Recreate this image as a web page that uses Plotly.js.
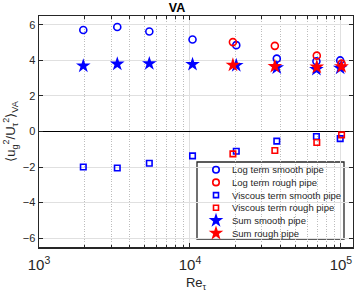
<!DOCTYPE html>
<html><head><meta charset="utf-8">
<script src="https://cdn.plot.ly/plotly-3.0.1.min.js"></script>
<style>html,body{margin:0;padding:0;background:#fff}#c{width:354px;height:296px}</style>
</head><body><div id="c"></div>
<script>
const reSmooth = [1965, 3300, 5380, 10400, 20270, 37600, 68800, 98900];
const reRough = [19250, 36500, 69200, 101000];
const logSmooth = [5.71, 5.88, 5.63, 5.18, 4.86, 4.10, 3.95, 4.0];
const logRough = [5.03, 4.82, 4.27, 3.82];
const viscSmooth = [-2.0, -2.05, -1.79, -1.37, -1.11, -0.54, -0.28, -0.40];
const viscRough = [-1.26, -1.07, -0.62, -0.19];
const sumSmooth = [3.69, 3.80, 3.82, 3.78, 3.72, 3.59, 3.50, 3.57];
const sumRough = [3.74, 3.67, 3.63, 3.65];
const names = ['Log term smooth pipe','Log term rough pipe','Viscous term smooth pipe','Viscous term rough pipe','Sum smooth pipe','Sum rough pipe'];
const symbols = ['circle-open','circle-open','square-open','square-open','star','star'];
const colors = ['#0000ff','#ff0000','#0000ff','#ff0000','#0000ff','#ff0000'];
const sizes = [7, 7, 5.5, 5.5, 11, 11];
const xs = [reSmooth, reRough, reSmooth, reRough, reSmooth, reRough];
const ys = [logSmooth, logRough, viscSmooth, viscRough, sumSmooth, sumRough];

// plot area geometry (pixels) for the hand-built legend
const W = 354, H = 296, ML = 39, MR = 1, MT = 16, MB = 49;
const PW = W - ML - MR, PH = H - MT - MB;
const px2x = p => (p - ML) / PW;
const px2y = p => (H - MB - p) / PH;
const legL = 197, legR = 344, legT = 162, legB = 239;
const row0 = 169.7, rowStep = 12.7, symX = 216, txtX = 231;

const data = [];
for (let i = 0; i < names.length; i++) {
  const open = symbols[i].indexOf('open') >= 0;
  data.push({x: xs[i], y: ys[i], name: names[i], type: 'scatter', mode: 'markers', showlegend: false,
    marker: {symbol: symbols[i], size: sizes[i], color: colors[i], line: {width: open ? 1.6 : 0}}});
}
// legend symbols on an overlay axis (0..1 over the plot area)
for (let i = 0; i < names.length; i++) {
  const open = symbols[i].indexOf('open') >= 0;
  data.push({x: [px2x(symX)], y: [px2y(row0 + i * rowStep)], xaxis: 'x2', yaxis: 'y2', type: 'scatter', mode: 'markers',
    showlegend: false, hoverinfo: 'skip', cliponaxis: false,
    marker: {symbol: symbols[i], size: sizes[i] - (open ? 0.5 : 0), color: colors[i], line: {width: open ? 1.6 : 0}}});
}
const annotations = names.map((n, i) => ({
  text: n, xref: 'paper', yref: 'paper', x: px2x(txtX - 1), y: px2y(row0 + i * rowStep),
  xanchor: 'left', yanchor: 'middle', showarrow: false, font: {size: 9.5, color: '#262626'}
}));
const layout = {
  width: W, height: H,
  margin: {l: ML, r: MR, t: MT, b: MB},
  paper_bgcolor: '#fff', plot_bgcolor: '#fff',
  font: {family: 'Liberation Sans, Arial, sans-serif', size: 11, color: '#262626'},
  title: {text: '<b>VA</b>', x: 0.5, xanchor: 'center', y: 0.99, yanchor: 'top', font: {size: 12.5, color: '#000'}},
  showlegend: false,
  shapes: [{type: 'rect', xref: 'paper', yref: 'paper', x0: px2x(legL), x1: px2x(legR), y0: px2y(legB), y1: px2y(legT),
    fillcolor: '#fff', line: {color: '#262626', width: 1.3}, layer: 'between'}],
  annotations: annotations,
  xaxis: {type: 'log', range: [3, 5.08], dtick: 1, exponentformat: 'power', showexponent: 'all',
    showline: true, linecolor: '#262626', linewidth: 1.5, mirror: 'ticks', ticks: 'inside', ticklen: 4, tickcolor: '#262626',
    showgrid: true, gridcolor: '#e0e0e0', gridwidth: 1, zeroline: false,
    minor: {dtick: 'D1', showgrid: true, gridcolor: '#bdbdbd', griddash: '1px,1.5px', gridwidth: 1, ticks: 'inside', ticklen: 2.5, tickcolor: '#262626'},
    ticklabelstandoff: 4, tickfont: {size: 12},
    title: {text: 'Re<sub>τ</sub>', font: {size: 13}, standoff: 6}},
  yaxis: {range: [-6.5, 6.5], dtick: 2, tick0: 0,
    showline: true, linecolor: '#262626', linewidth: 1.5, mirror: 'ticks', ticks: 'inside', ticklen: 4, tickcolor: '#262626',
    showgrid: true, gridcolor: '#e0e0e0', gridwidth: 1,
    zeroline: true, zerolinecolor: '#000', zerolinewidth: 1.5, tickfont: {size: 11},
    title: {text: '⟨u<sub>g</sub><sup>2</sup>/U<sub>τ</sub><sup>2</sup>⟩<sub>VA</sub>', font: {size: 13}, standoff: 4}},
  xaxis2: {overlaying: 'x', range: [0, 1], visible: false, fixedrange: true},
  yaxis2: {overlaying: 'y', range: [0, 1], visible: false, fixedrange: true}
};
Plotly.newPlot('c', data, layout, {staticPlot: true, displayModeBar: false});
</script></body></html>
